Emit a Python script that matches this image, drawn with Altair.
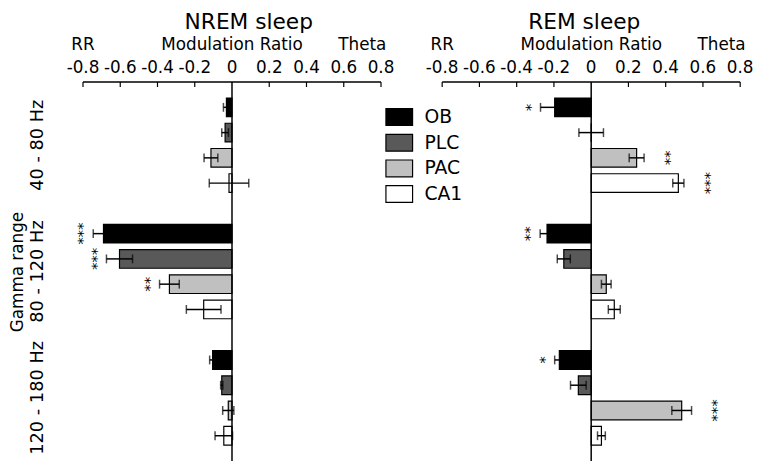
import altair as alt
import pandas as pd

regions = ["OB", "PLC", "PAC", "CA1"]
gamma_ranges = ["40 - 80 Hz", "80 - 120 Hz", "120 - 180 Hz"]
region_colors = ["#000000", "#595959", "#c0c0c0", "#ffffff"]

# values listed per gamma range, then per region (OB, PLC, PAC, CA1)
nrem_mean = [-0.030, -0.037, -0.113, -0.016,
             -0.690, -0.604, -0.336, -0.152,
             -0.104, -0.055, -0.020, -0.044]
nrem_sem = [0.016, 0.018, 0.037, 0.106,
            0.055, 0.070, 0.053, 0.093,
            0.016, 0.006, 0.030, 0.047]
nrem_stars = ["", "", "", "",
              "***", "***", "**", "",
              "", "", "", ""]

rem_mean = [-0.196, 0.000, 0.244, 0.468,
            -0.237, -0.147, 0.081, 0.124,
            -0.171, -0.069, 0.486, 0.055]
rem_sem = [0.076, 0.066, 0.040, 0.030,
           0.037, 0.035, 0.026, 0.032,
           0.025, 0.042, 0.053, 0.021]
rem_stars = ["*", "", "**", "***",
             "**", "", "", "",
             "*", "", "***", ""]

tick_values = [-0.8, -0.6, -0.4, -0.2, 0, 0.2, 0.4, 0.6, 0.8]
tick_labels = ["-0.8", "-0.6", "-0.4", "-0.2", "0", "0.2", "0.4", "0.6", "0.8"]
header_labels = ["RR", "Modulation Ratio", "Theta"]
header_positions = [-0.8, 0.0, 0.7]

FONT = "DejaVu Sans"


def make_df(means, sems, stars):
    rows = []
    i = 0
    for g in gamma_ranges:
        for r in regions:
            m, s = means[i], sems[i]
            rows.append(dict(gamma=g, region=r, mean=m, lo=m - s, hi=m + s, star=stars[i]))
            i += 1
    return pd.DataFrame(rows)


header_df = pd.DataFrame({"label": header_labels, "pos": header_positions})
tick_df = pd.DataFrame({"v": tick_values, "label": tick_labels})
zero_df = pd.DataFrame({"z": [0.0]})
axis_df = pd.DataFrame({"start": [tick_values[0]], "end": [tick_values[-1]]})


def panel(df, title, first, title_dx):
    xscale = alt.Scale(domain=[tick_values[0], tick_values[-1]], nice=False)
    if first:
        y_axis = alt.Axis(domain=False, ticks=False, tickSize=0, labelAngle=-90, labelAlign="center",
                          labelBaseline="bottom", labelFontSize=18, labelPadding=37,
                          labelColor="black", titleFontSize=17, titleFontWeight="normal",
                          titlePadding=2, titleColor="black")
    else:
        y_axis = None
    y = alt.Y("gamma:N", sort=gamma_ranges, title="Gamma range",
              scale=alt.Scale(paddingInner=0.2, paddingOuter=0.1), axis=y_axis)
    yoff = alt.YOffset("region:N", sort=regions,
                       scale=alt.Scale(paddingInner=0.26, paddingOuter=0.13))
    base = alt.Chart(df)

    bars = base.mark_bar(stroke="black", strokeWidth=1.2).encode(
        x=alt.X("mean:Q", scale=xscale, title=None, axis=None),
        y=y,
        yOffset=yoff,
        fill=alt.Fill("region:N", sort=regions,
                      scale=alt.Scale(domain=regions, range=region_colors),
                      legend=alt.Legend(title=None, orient="none", legendX=306, legendY=21,
                                        symbolType="M-1,-0.63H1V0.63H-1Z", symbolSize=729,
                                        symbolStrokeColor="black", symbolStrokeWidth=1.2,
                                        labelFontSize=19, labelOffset=11, rowPadding=0,
                                        padding=0, labelColor="black", symbolOpacity=1)),
    )
    err = base.mark_rule(color="black", strokeWidth=1.5).encode(
        x=alt.X("lo:Q", title=None), x2="hi:Q", y=y, yOffset=yoff)
    cap_lo = base.mark_tick(color="black", thickness=1.5, size=9).encode(
        x=alt.X("lo:Q", title=None), y=y, yOffset=yoff)
    cap_hi = base.mark_tick(color="black", thickness=1.5, size=9).encode(
        x=alt.X("hi:Q", title=None), y=y, yOffset=yoff)
    stars_neg = base.transform_filter("datum.star != '' && datum.mean < 0").mark_text(
        angle=90, fontSize=15, dy=14, baseline="middle", align="center", color="black"
    ).encode(x=alt.X("lo:Q", title=None), y=y, yOffset=yoff, text="star:N")
    stars_pos = base.transform_filter("datum.star != '' && datum.mean > 0").mark_text(
        angle=90, fontSize=15, dy=-22, baseline="middle", align="center", color="black"
    ).encode(x=alt.X("hi:Q", title=None), y=y, yOffset=yoff, text="star:N")
    header = alt.Chart(header_df).mark_text(fontSize=17, baseline="middle", color="black").encode(
        x=alt.X("pos:Q", title=None), y=alt.value(-38), text="label:N")
    tick_text = alt.Chart(tick_df).mark_text(fontSize=17, baseline="middle", color="black").encode(
        x=alt.X("v:Q", title=None), y=alt.value(-14), text="label:N")
    ticks = alt.Chart(tick_df).transform_filter("datum.v != 0").mark_rule(
        color="black", strokeWidth=1.2).encode(
        x=alt.X("v:Q", title=None), y=alt.value(0), y2=alt.value(5))
    axis_line = alt.Chart(axis_df).mark_rule(color="black", strokeWidth=1.5).encode(
        x=alt.X("start:Q", title=None), x2="end:Q", y=alt.value(0))
    zero = alt.Chart(zero_df).mark_rule(color="black", strokeWidth=1.5).encode(
        x=alt.X("z:Q", title=None))

    return alt.layer(bars, zero, axis_line, ticks, err, cap_lo, cap_hi, stars_neg, stars_pos,
                     header, tick_text).properties(
        width=302, height=384,
        title=alt.TitleParams(title, fontSize=22, fontWeight="normal", offset=2,
                              anchor="middle", dx=title_dx, color="black"),
    )


left = panel(make_df(nrem_mean, nrem_sem, nrem_stars), "NREM sleep", True, 17)
right = panel(make_df(rem_mean, rem_sem, rem_stars), "REM sleep", False, -7)

chart = alt.hconcat(left, right, spacing=62, bounds="flush").properties(
    padding=0
).configure(font=FONT).configure_view(stroke=None)

chart.save("out.html", embed_options={"renderer": "svg", "actions": False})
